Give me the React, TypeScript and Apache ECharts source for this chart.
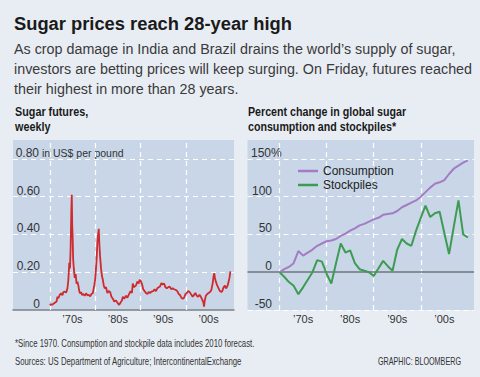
import React, { useEffect, useRef } from "react";
import * as echarts from "echarts";

// ---- Data -------------------------------------------------------------
// Sugar futures, weekly (US$ per pound)
const futuresYears = [
  1970.0, 1970.3, 1970.6, 1970.9, 1971.2, 1971.5, 1971.7, 1971.9, 1972.2, 1972.5,
  1972.8, 1973.0, 1973.3, 1973.6, 1973.9, 1974.1, 1974.3, 1974.45, 1974.6, 1974.75,
  1974.85, 1974.95, 1975.05, 1975.15, 1975.3, 1975.5, 1975.7, 1975.9, 1976.1, 1976.3,
  1976.5, 1976.7, 1976.9, 1977.1, 1977.4, 1977.7, 1978.0, 1978.3, 1978.6, 1978.9,
  1979.2, 1979.5, 1979.8, 1980.0, 1980.2, 1980.35, 1980.5, 1980.65, 1980.8, 1980.95,
  1981.1, 1981.3, 1981.5, 1981.7, 1981.9, 1982.1, 1982.4, 1982.7, 1983.0, 1983.3,
  1983.6, 1983.9, 1984.2, 1984.6, 1985.0, 1985.3, 1985.6, 1985.9, 1986.1, 1986.4,
  1986.8, 1987.1, 1987.5, 1987.8, 1988.1, 1988.3, 1988.5, 1988.7, 1989.0, 1989.3,
  1989.6, 1989.8, 1990.0, 1990.3, 1990.6, 1990.9, 1991.2, 1991.5, 1991.8, 1992.1,
  1992.4, 1992.8, 1993.1, 1993.4, 1993.7, 1994.0, 1994.3, 1994.6, 1994.9, 1995.2,
  1995.5, 1995.8, 1996.1, 1996.4, 1996.8, 1997.1, 1997.4, 1997.8, 1998.1, 1998.4,
  1998.7, 1999.0, 1999.3, 1999.6, 1999.9, 2000.2, 2000.5, 2000.8, 2001.1, 2001.5,
  2001.8, 2002.1, 2002.4, 2002.7, 2003.0, 2003.3, 2003.6, 2003.85, 2004.0, 2004.15,
  2004.4, 2004.7, 2005.0, 2005.3, 2005.6, 2005.9, 2006.1, 2006.25, 2006.4, 2006.6,
  2006.9, 2007.2, 2007.5, 2007.8, 2008.0, 2008.3, 2008.6, 2008.8, 2009.0, 2009.2,
  2009.4, 2009.6, 2009.8,
];
const futuresValues = [
  0.025, 0.03, 0.028, 0.035, 0.04, 0.045, 0.07, 0.062, 0.08, 0.088,
  0.078, 0.095, 0.097, 0.092, 0.115, 0.16, 0.25, 0.22, 0.33, 0.52,
  0.61, 0.45, 0.38, 0.27, 0.22, 0.17, 0.19, 0.14, 0.15, 0.13,
  0.1, 0.088, 0.095, 0.08, 0.085, 0.075, 0.088, 0.078, 0.08, 0.072,
  0.085, 0.09, 0.13, 0.16, 0.22, 0.28, 0.36, 0.4, 0.43, 0.34,
  0.28, 0.22, 0.18, 0.16, 0.13, 0.115, 0.12, 0.09, 0.1, 0.095,
  0.07, 0.06, 0.045, 0.05, 0.035, 0.027, 0.04, 0.05, 0.07, 0.06,
  0.075, 0.065, 0.085, 0.1, 0.09, 0.14, 0.12, 0.125, 0.13, 0.15,
  0.14, 0.16, 0.155, 0.14, 0.11, 0.1, 0.09, 0.085, 0.095, 0.09,
  0.097, 0.1, 0.11, 0.1, 0.115, 0.12, 0.125, 0.142, 0.135, 0.14,
  0.12, 0.115, 0.12, 0.124, 0.11, 0.115, 0.11, 0.106, 0.1, 0.085,
  0.08, 0.065, 0.06, 0.065, 0.085, 0.09, 0.1, 0.095, 0.085, 0.07,
  0.08, 0.09, 0.075, 0.07, 0.08, 0.07, 0.055, 0.04, 0.018, 0.05,
  0.075, 0.085, 0.09, 0.095, 0.105, 0.14, 0.18, 0.195, 0.17, 0.15,
  0.13, 0.115, 0.1, 0.095, 0.1, 0.12, 0.13, 0.115, 0.12, 0.13,
  0.15, 0.17, 0.205,
];

// Percent change in global sugar consumption and stockpiles (since 1970)
const years = [
  1970, 1971, 1972, 1973, 1974, 1975, 1976, 1977, 1978, 1979,
  1980, 1981, 1982, 1983, 1984, 1985, 1986, 1987, 1988, 1989,
  1990, 1991, 1992, 1993, 1994, 1995, 1996, 1997, 1998, 1999,
  2000, 2001, 2002, 2003, 2004, 2005, 2006, 2007, 2008, 2009, 2010,
];
const consumption = [
  0, 4, 7, 12, 28, 22, 26, 30, 35, 38,
  41, 42, 44, 48, 51, 55, 58, 62, 64, 67,
  70, 72, 76, 77, 78, 81, 86, 89, 92, 95,
  100, 106, 112, 117, 119, 122, 130, 137, 141, 145, 148,
];
const stockpiles = [
  0, -6, -13, -18, -29, -20, -10, 0, 16, 14,
  -2, -15, 12, 38, 26, 29, 12, 4, 2, 0,
  -5, 5, 15, 8, 2, 30, 44, 38, 35, 55,
  72, 88, 73, 78, 80, 52, 24, 60, 95, 50, 46,
];

// Axis ticks / grid lines / labels
const leftYTicks = [0, 0.2, 0.4, 0.6, 0.8];
const leftGridY = [0.2, 0.4, 0.6, 0.8];
const rightYTicks = [-50, 0, 50, 100, 150];
const rightGridY = [-50, 50, 100, 150];
const decadeLines = [1970, 1980, 1990, 2000];
const decadeLabelPos = [1975, 1985, 1995, 2005];

const title = "Sugar prices reach 28-year high";
const subtitleLines = [
  "As crop damage in India and Brazil drains the world\u2019s supply of sugar,",
  "investors are betting prices will keep surging. On Friday, futures reached",
  "their highest in more than 28 years.",
];
const leftHead = ["Sugar futures,", "weekly"];
const rightHead = ["Percent change in global sugar", "consumption and stockpiles*"];
const footnote = "*Since 1970. Consumption and stockpile data includes 2010 forecast.";
const sources = "Sources: US Department of Agriculture; IntercontinentalExchange";
const credit = "GRAPHIC: BLOOMBERG";

// ---- Styles -----------------------------------------------------------
const PAGE_BG = "#e8edf4";
const PLOT_BG = "#c8d6e8";
const SANS = "'Liberation Sans', Arial, sans-serif";
const TXT = "#333333";
const RED = "#cf2a2e";
const PURPLE = "#a47cc4";
const GREEN = "#3e9b52";

const decadeLabel = (v: number) => "\u2019" + String(Math.round(v) - 5).slice(2, 4) + "s";

function txt(text: string, x: number, y: number, font: string, fill: string, scaleX = 1, align = "left") {
  return {
    type: "text",
    x,
    y,
    scaleX,
    silent: true,
    style: { text, font, fill, textAlign: align, textVerticalAlign: "middle" },
  };
}

export default function App() {
  const ref = useRef<HTMLDivElement>(null);
  useEffect(() => {
    if (!ref.current) return;
    const chart = echarts.init(ref.current, null, { renderer: "svg" });

    const dashed = { type: [5, 4], color: "#ffffff", width: 1.2 };

    const graphic: any[] = [
      txt(title, 14, 23, `bold 19px ${SANS}`, "#1a1a1a", 0.965),
      ...subtitleLines.map((l, i) => txt(l, 14, 49 + i * 20, `15px ${SANS}`, "#3a3a3a", 0.955)),
      ...leftHead.map((l, i) => txt(l, 15, 112 + i * 14.5, `bold 13.5px ${SANS}`, "#1a1a1a", 0.8)),
      ...rightHead.map((l, i) => txt(l, 248, 112 + i * 14.5, `bold 13.5px ${SANS}`, "#1a1a1a", 0.79)),
      txt(footnote, 15, 344, `10px ${SANS}`, "#333", 0.78),
      txt(sources, 15, 362, `10px ${SANS}`, "#333", 0.78),
      txt(credit, 461, 362, `10px ${SANS}`, "#333", 0.72, "right"),
    ];

    const xLabel = {
      customValues: decadeLabelPos,
      formatter: decadeLabel,
      margin: 3,
      color: TXT,
      fontFamily: SANS,
      fontSize: 11,
    };

    const option: any = {
      animation: false,
      backgroundColor: PAGE_BG,
      graphic,
      grid: [
        { left: 13, top: 140, width: 221, height: 170, show: true, backgroundColor: PLOT_BG, borderWidth: 0, outerBoundsMode: "none", containLabel: false },
        { left: 247.5, top: 140, width: 226.5, height: 170, show: true, backgroundColor: PLOT_BG, borderWidth: 0, outerBoundsMode: "none", containLabel: false },
      ],
      xAxis: [
        {
          type: "value",
          gridIndex: 0,
          min: 1961.9,
          max: 2010.6,
          splitLine: { show: false },
          axisTick: { show: false },
          axisLine: { show: true, lineStyle: { color: "#7c8188", width: 1.5 } },
          axisLabel: xLabel,
        },
        {
          type: "value",
          gridIndex: 1,
          min: 1963.2,
          max: 2011.3,
          splitLine: { show: false },
          axisTick: { show: false },
          axisLine: { show: false },
          axisLabel: xLabel,
        },
      ],
      yAxis: [
        {
          type: "value",
          gridIndex: 0,
          min: 0,
          max: 0.9,
          splitLine: { show: false },
          axisTick: { show: false },
          axisLine: { show: false },
          axisLabel: {
            customValues: leftYTicks,
            margin: -27,
            align: "right",
            verticalAlign: "bottom",
            color: TXT,
            fontFamily: SANS,
            fontSize: 12,
            formatter: (v: number) =>
              v === 0 ? "0" : Math.abs(v - 0.8) < 1e-6 ? "{a|0.80}{u| in US$ per pound}" : v.toFixed(2),
            rich: {
              a: { align: "left", color: TXT, fontFamily: SANS, fontSize: 12 },
              u: { width: 1, align: "left", color: TXT, fontFamily: SANS, fontSize: 10.5 },
            },
          },
        },
        {
          type: "value",
          gridIndex: 1,
          min: -50,
          max: 175,
          splitLine: { show: false },
          axisTick: { show: false },
          axisLine: { show: false },
          axisLabel: {
            customValues: rightYTicks,
            margin: -24.5,
            align: "right",
            verticalAlign: "bottom",
            color: TXT,
            fontFamily: SANS,
            fontSize: 12,
            formatter: (v: number) => (v === 150 ? "{a|150}{p|%}" : String(v)),
            rich: {
              a: { align: "left", color: TXT, fontFamily: SANS, fontSize: 12 },
              p: { width: 1, align: "left", color: TXT, fontFamily: SANS, fontSize: 12 },
            },
          },
        },
      ],
      legend: {
        data: ["Consumption", "Stockpiles"],
        orient: "vertical",
        left: 298,
        top: 164,
        icon: "rect",
        itemWidth: 20,
        itemHeight: 2.5,
        itemGap: 0,
        padding: 0,
        selectedMode: false,
        textStyle: { fontFamily: SANS, fontSize: 12, color: "#222", lineHeight: 14 },
      },
      series: [
        {
          name: "Sugar futures",
          type: "line",
          xAxisIndex: 0,
          yAxisIndex: 0,
          data: futuresYears.map((y, i) => [y, futuresValues[i]]),
          showSymbol: false,
          z: 3,
          lineStyle: { color: RED, width: 1.8 },
          itemStyle: { color: RED },
          markLine: {
            silent: true,
            z: 1,
            symbol: ["none", "none"],
            label: { show: false },
            lineStyle: dashed,
            data: [
              ...leftGridY.map((v) => ({ yAxis: v })),
              ...decadeLines.map((v) => ({ xAxis: v })),
            ],
          },
        },
        {
          name: "Consumption",
          type: "line",
          xAxisIndex: 1,
          yAxisIndex: 1,
          data: years.map((y, i) => [y, consumption[i]]),
          showSymbol: false,
          z: 3,
          lineStyle: { color: PURPLE, width: 2 },
          itemStyle: { color: PURPLE },
          markLine: {
            silent: true,
            z: 1,
            symbol: ["none", "none"],
            label: { show: false },
            lineStyle: dashed,
            data: [
              ...rightGridY.map((v) => ({ yAxis: v })),
              ...decadeLines.map((v) => ({ xAxis: v })),
              { yAxis: 0, lineStyle: { type: "solid", color: "#6f747b", width: 1.5 } },
            ],
          },
        },
        {
          name: "Stockpiles",
          type: "line",
          xAxisIndex: 1,
          yAxisIndex: 1,
          data: years.map((y, i) => [y, stockpiles[i]]),
          showSymbol: false,
          z: 3,
          lineStyle: { color: GREEN, width: 2 },
          itemStyle: { color: GREEN },
        },
      ],
    };

    chart.setOption(option);
    return () => chart.dispose();
  }, []);

  return (
    <div
      ref={ref}
      style={{ position: "fixed", left: 0, top: 0, width: 480, height: 377 }}
    />
  );
}
